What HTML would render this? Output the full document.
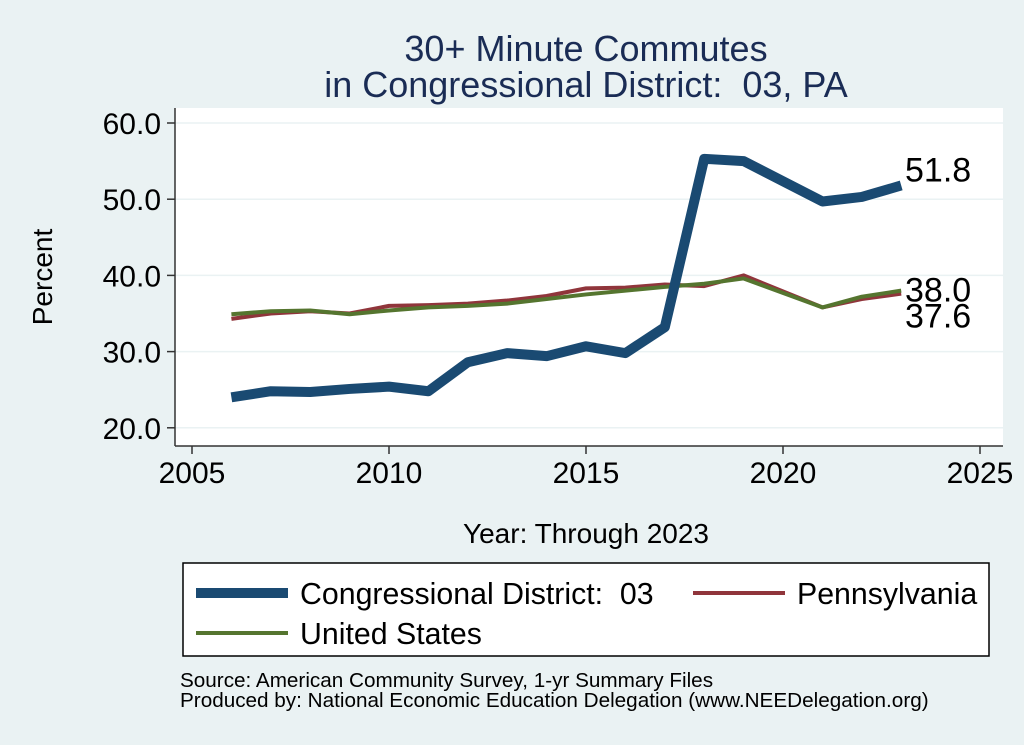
<!DOCTYPE html>
<html><head><meta charset="utf-8"><style>
body{margin:0;background:#eaf2f3;}
svg{display:block;font-family:"Liberation Sans",sans-serif;}
text{white-space:pre;}
</style></head><body>
<svg id="chart" width="1024" height="745">
<rect x="0" y="0" width="1024" height="745" fill="#eaf2f3"/>
<text x="586" y="61" text-anchor="middle" font-size="36" fill="#1a2c55">30+ Minute Commutes</text>
<text x="586" y="97" text-anchor="middle" font-size="36" fill="#1a2c55">in Congressional District:  03, PA</text>
<rect x="175" y="108" width="828" height="338" fill="#fff"/>
<g id="grid"></g><g id="axes"></g><g id="series"></g>
<text x="52" y="277" text-anchor="middle" font-size="28" transform="rotate(-90 52 277)">Percent</text>
<text x="586" y="543" text-anchor="middle" font-size="28">Year: Through 2023</text>
<rect x="183" y="563" width="806" height="93" fill="#fff" stroke="#000" stroke-width="1.5"/>
<g><line x1="196" y1="593" x2="288" y2="593" stroke="#1a4a72" stroke-width="10"/><text x="300" y="604" font-size="30.3">Congressional District:  03</text></g>
<g><line x1="693" y1="593" x2="785" y2="593" stroke="#90353b" stroke-width="4"/><text x="797" y="604" font-size="30.3">Pennsylvania</text></g>
<g><line x1="196" y1="633" x2="288" y2="633" stroke="#55752f" stroke-width="4"/><text x="300" y="644" font-size="30.3">United States</text></g>
<text x="180" y="687" font-size="20.7">Source: American Community Survey, 1-yr Summary Files</text>
<text x="180" y="707" font-size="20.7">Produced by: National Economic Education Delegation (www.NEEDelegation.org)</text>
</svg>
<script>
const years=[2006,2007,2008,2009,2010,2011,2012,2013,2014,2015,2016,2017,2018,2019,2021,2022,2023];
const district=[24.0,24.8,24.7,25.1,25.4,24.8,28.6,29.8,29.4,30.7,29.8,33.2,55.3,55.0,49.7,50.3,51.8];
const penn=[34.3,35.0,35.3,35.0,36.0,36.1,36.3,36.7,37.3,38.3,38.4,38.8,38.6,40.0,35.8,36.9,37.6];
const us=[34.9,35.3,35.4,34.9,35.4,35.8,36.0,36.3,36.9,37.5,38.0,38.5,38.9,39.6,35.8,37.2,38.0];
const yTicks=[20,30,40,50,60];
const xTicks=[2005,2010,2015,2020,2025];
const NS="http://www.w3.org/2000/svg";
const xS=v=>192+(v-2005)*39.4;
const yS=v=>123+(60-v)*7.62;
function mk(tag,attrs,parent){const e=document.createElementNS(NS,tag);for(const k in attrs)e.setAttribute(k,attrs[k]);document.getElementById(parent).appendChild(e);return e;}
yTicks.forEach(t=>{
 const g=mk('line',{x1:175,x2:1003,y1:yS(t),y2:yS(t),stroke:'#eaf2f3','stroke-width':1.5},'grid');
 
 
 const tk=mk('line',{x1:167,x2:175,y1:yS(t),y2:yS(t),stroke:'#333','stroke-width':1.5},'axes');
 
 
 const tx=mk('text',{x:161,y:yS(t)+11,'text-anchor':'end','font-size':30},'axes');
 tx.textContent=t.toFixed(1);
 
 
});
xTicks.forEach(t=>{
 const tk=mk('line',{x1:xS(t),x2:xS(t),y1:446,y2:454,stroke:'#333','stroke-width':1.5},'axes');
 
 
 const tx=mk('text',{x:xS(t),y:483,'text-anchor':'middle','font-size':30},'axes');
 tx.textContent=t;
 
 
});
const ya=mk('line',{x1:175,x2:175,y1:108,y2:446,stroke:'#333','stroke-width':1.5},'axes');


const xa=mk('line',{x1:175,x2:1003,y1:446,y2:446,stroke:'#333','stroke-width':1.5},'axes');


function line(vals,color,w,name){
 const p=mk('polyline',{points:vals.map((v,i)=>xS(years[i])+','+yS(v)).join(' '),fill:'none',stroke:color,'stroke-width':w,'stroke-linejoin':'round'},'series');
 
 
}
line(penn,'#90353b',4,'line-pennsylvania');
line(us,'#55752f',4,'line-united-states');
line(district,'#1a4a72',10,'line-district');
const n=years.length-1;
[[district[n],-4,'label-district'],[us[n],11,'label-us'],[penn[n],37,'label-pennsylvania']].forEach(([v,dy,nm],i)=>{
 const base=i==0?yS(v):yS(us[n]);
 const t=mk('text',{x:905,y:base+dy,'font-size':34},'series');
 t.textContent=v.toFixed(1);
 
 
});
</script>
</body></html>
